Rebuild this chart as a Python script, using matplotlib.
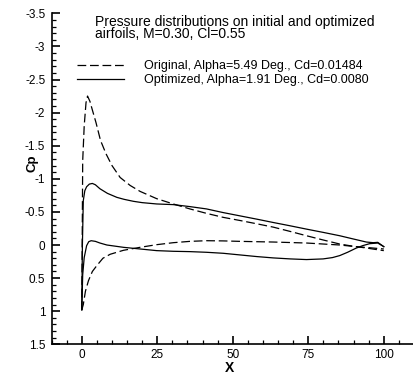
import matplotlib.pyplot as plt
from matplotlib.ticker import MultipleLocator

plt.rcParams['font.family'] = ['Liberation Sans', 'DejaVu Sans']

# Original airfoil, upper and lower surface (x in % chord)
x_orig_up = [0, 0.3, 0.8, 1.4, 1.9, 2.7, 3.5, 4.7, 6.2, 8.0, 10.0, 12.7, 16.0, 19.3, 24.8,
             30.3, 35.8, 41.3, 46.8, 52.4, 58.0, 63.4, 69.0, 74.4, 80.0, 85.4, 90.0, 94.2, 97.0, 100.0]
cp_orig_up = [0.98, -1.27, -1.80, -2.15, -2.25, -2.17, -2.04, -1.85, -1.58, -1.38, -1.20, -1.02, -0.90, -0.81, -0.70,
              -0.62, -0.545, -0.478, -0.418, -0.37, -0.32, -0.27, -0.205, -0.14, -0.075, -0.015, 0.02, 0.045, 0.065, 0.085]
x_orig_lo = [0, 0.5, 1.2, 2.2, 3.5, 5.0, 7.0, 9.4, 13.8, 19.3, 24.8, 30.3, 35.8, 41.3, 46.8,
             52.4, 63.4, 74.4, 85.4, 90.9, 95.0, 100.0]
cp_orig_lo = [0.98, 0.90, 0.70, 0.54, 0.40, 0.31, 0.20, 0.14, 0.08, 0.035, -0.005, -0.035, -0.055, -0.065, -0.062,
              -0.055, -0.045, -0.03, 0.0, 0.025, 0.04, 0.06]

# Optimized airfoil
x_opt_up = [0, 0.2, 0.5, 1.0, 1.6, 2.5, 3.5, 4.5, 6.0, 8.5, 11.6, 14.0, 17.1, 20.0, 24.8, 30.3,
            35.8, 41.3, 46.8, 52.4, 58.0, 63.4, 69.0, 74.4, 80.0, 85.4, 90.0, 94.2, 96.5, 98.0, 100.0]
cp_opt_up = [0.98, 0.0, -0.67, -0.82, -0.88, -0.92, -0.93, -0.91, -0.85, -0.78, -0.72, -0.69, -0.66, -0.64, -0.62, -0.61,
             -0.58, -0.545, -0.49, -0.44, -0.39, -0.34, -0.29, -0.24, -0.19, -0.14, -0.09, -0.045, -0.035, -0.04, 0.025]
x_opt_lo = [0, 0.3, 0.8, 1.6, 2.3, 3.1, 4.5, 6.0, 8.3, 13.8, 19.3, 24.8, 30.3, 35.8, 41.3, 46.8,
            52.4, 58.0, 63.4, 69.0, 74.4, 79.9, 83.0, 85.4, 88.0, 90.9, 93.0, 95.3, 98.0, 100.0]
cp_opt_lo = [0.98, 0.45, 0.19, 0.01, -0.05, -0.065, -0.055, -0.03, 0.0, 0.035, 0.06, 0.085, 0.095, 0.10, 0.11, 0.125,
             0.15, 0.175, 0.195, 0.21, 0.22, 0.21, 0.19, 0.16, 0.11, 0.046, 0.01, -0.02, -0.03, 0.025]

labels = ['Original, Alpha=5.49 Deg., Cd=0.01484', 'Optimized, Alpha=1.91 Deg., Cd=0.0080']

fig = plt.figure(figsize=(4.14, 3.76), dpi=100)
ax = fig.add_axes([0.1246, 0.0843, 0.8754, 0.8803])

dash = (0, (7, 3))
l1, = ax.plot(x_orig_up, cp_orig_up, color='black', lw=0.9, linestyle=dash)
ax.plot(x_orig_lo, cp_orig_lo, color='black', lw=0.9, linestyle=dash)
l2, = ax.plot(x_opt_up, cp_opt_up, color='black', lw=0.9)
ax.plot(x_opt_lo, cp_opt_lo, color='black', lw=0.9)

ax.set_xlim(-10, 110)
ax.set_ylim(1.5, -3.5)

ax.set_xticks([0, 25, 50, 75, 100])
ax.xaxis.set_minor_locator(MultipleLocator(5))
ax.yaxis.set_major_locator(MultipleLocator(0.5))
ax.yaxis.set_minor_locator(MultipleLocator(0.1))
ax.set_yticklabels([f'{v:g}' for v in ax.get_yticks()])
ax.tick_params(which='major', direction='in', length=6, width=1.2, labelsize=8.5)
ax.tick_params(axis='y', which='major', pad=4.5)
ax.tick_params(which='minor', direction='in', length=3, width=0.9)

ax.spines['top'].set_visible(False)
ax.spines['right'].set_visible(False)
ax.spines['left'].set_linewidth(1.2)
ax.spines['bottom'].set_linewidth(1.2)

ax.set_xlabel('X', fontsize=10, fontweight='bold')
ax.set_ylabel('Cp', fontsize=9.5, fontweight='bold')
ax.xaxis.set_label_coords(0.49, -0.05)
ax.yaxis.set_label_coords(-0.037, 0.547)

fig.text(95 / 414, 1 - 15 / 376, 'Pressure distributions on initial and optimized\nairfoils, M=0.30, Cl=0.55',
         fontsize=10, va='top', ha='left', linespacing=0.8)
fig.legend([l1, l2], labels, loc='upper left', bbox_to_anchor=(77 / 414, 1 - 60 / 376),
           frameon=False, fontsize=9, handlelength=3.8, handletextpad=1.6,
           labelspacing=0.2, borderpad=0, borderaxespad=0)

plt.savefig('out.png', dpi=100)
